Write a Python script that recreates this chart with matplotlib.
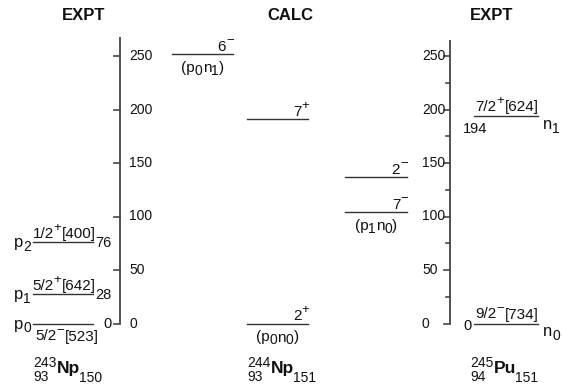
import matplotlib
matplotlib.use('Agg')
import matplotlib.pyplot as plt

plt.rcParams['font.family'] = ['Liberation Sans', 'DejaVu Sans']

# ---------------- data ----------------
scale_major = [0, 50, 100, 150, 200, 250]
scale_minor = [25, 75, 125, 175, 225]

np243_energy = [0, 28, 76]
np243_K = ['5/2', '5/2', '1/2']
np243_parity = ['\u2212', '+', '+']
np243_asym = ['[523]', '[642]', '[400]']
np243_index = ['0', '1', '2']

calc_energy = [0, 104, 137, 191, 252]
calc_I = ['2', '7', '2', '7', '6']
calc_parity = ['+', '\u2212', '\u2212', '+', '\u2212']
calc_config = [('0', '0'), ('1', '0'), None, None, ('0', '1')]
calc_slot = [1, 2, 2, 1, 0]

pu245_energy = [0, 194]
pu245_K = ['9/2', '7/2']
pu245_parity = ['\u2212', '+']
pu245_asym = ['[734]', '[624]']
pu245_index = ['0', '1']

titles = ['EXPT', 'CALC', 'EXPT']
nuclides = [('243', '93', 'Np', '150'), ('244', '93', 'Np', '151'), ('245', '94', 'Pu', '151')]

# ---------------- figure ----------------
W, H = 562, 388
fig = plt.figure(figsize=(W / 100, H / 100), dpi=100)
ax = fig.add_axes([0, 0, 1, 1])
ax.set_xlim(0, W)
k = 1.07
y0 = 323.5
ax.set_ylim((y0 - H) / k, y0 / k)
ax.axis('off')

lay = fig.add_axes([0, 0, 1, 1])
lay.set_xlim(0, W)
lay.set_ylim(H, 0)
lay.axis('off')

renderer = fig.canvas.get_renderer()

TXT = '#111111'
LN = '#333333'
AX = '#444444'
FS = 11
SUP = 9.5
SUBFS = 10


def lab(x, e, s, dx=0, dy=0, **kw):
    kw.setdefault('fontsize', FS)
    kw.setdefault('color', TXT)
    ax.annotate(s, (x, e), xytext=(dx, dy), textcoords='offset pixels', **kw)


def width(s, size, weight='normal'):
    t = ax.text(0, 0, s, fontsize=size, fontweight=weight)
    w = t.get_window_extent(renderer).width
    t.remove()
    return w


def seq(x, e, parts, ha='left', dy=0):
    """parts: list of (string, fontsize, rise_px, kern_after_px)."""
    widths = [width(s, size) + kern for s, size, rise, kern in parts]
    total = sum(widths)
    off = {'left': 0, 'center': -total / 2, 'right': -total}[ha]
    for (s, size, rise, kern), w in zip(parts, widths):
        ax.annotate(s, (x, e), xytext=(off, dy + rise), textcoords='offset pixels',
                    ha='left', va='baseline', fontsize=size, color=TXT)
        off += w


def nilsson(K, par, asym):
    return [(K, FS, 0, 0), (par, SUP, 7, 0), (asym, FS, 0, 0)]


# ---------------- energy scales ----------------
left_x = 120
right_x = 450
ax.plot([left_x, left_x], [0, (y0 - 37) / k], color=AX, lw=1.3, solid_capstyle='butt')
for t in scale_major:
    ax.plot([left_x - 6, left_x], [t, t], color=AX, lw=1.2)
    lab(left_x + 9, t, str(t), fontsize=10, va='center', ha='left')

ax.plot([right_x, right_x], [0, (y0 - 40) / k], color=AX, lw=1.3, solid_capstyle='butt')
for t in scale_major:
    ax.plot([right_x - 6, right_x], [t, t], color=AX, lw=1.2)
    lab(422, t, str(t), fontsize=10, va='center', ha='left')
for t in scale_minor:
    ax.plot([right_x - 4, right_x], [t, t], color=AX, lw=1.2)

# ---------------- 243Np levels ----------------
for e, K, par, asym, idx in zip(np243_energy, np243_K, np243_parity, np243_asym, np243_index):
    ax.plot([33, 93], [e, e], color=LN, lw=1.0)
    if e == 0:
        seq(67, e, nilsson(K, par, asym), ha='center', dy=-17)
    else:
        seq(64, e, nilsson(K, par, asym), ha='center', dy=4)
    lab(112, e, str(e), dy=-1, ha='right', va='center', fontsize=10.5)
    seq(14, e, [('p', 12, 0, 0), (idx, SUBFS, -4, 0)], dy=-5)

# ---------------- calculated 244Np levels ----------------
slots = [(172, 233), (247, 308), (345, 407)]
for e, I, par, cf, sl in zip(calc_energy, calc_I, calc_parity, calc_config, calc_slot):
    x1, x2 = slots[sl]
    ax.plot([x1, x2], [e, e], color=LN, lw=1.0)
    seq(x2 + 1, e, [(I, FS, 0, 0), (par, SUP, 7, 0)], ha='right', dy=3)
    if cf:
        seq((x1 + x2) / 2, e, [('(p', FS, 0, 0), (cf[0], SUBFS, -3, 0), ('n', FS, 0, 0),
                               (cf[1], SUBFS, -3, 0), (')', FS, 0, 0)], ha='center', dy=-18)

# ---------------- 245Pu levels ----------------
for e, K, par, asym, idx in zip(pu245_energy, pu245_K, pu245_parity, pu245_asym, pu245_index):
    ax.plot([474, 538], [e, e], color=LN, lw=1.0)
    seq(507, e, nilsson(K, par, asym), ha='center', dy=5)
    if e == 0:
        lab(463, e, str(e), dy=-3, ha='left', va='center', fontsize=10.5)
    else:
        lab(463, e, str(e), dy=-6, ha='left', va='top', fontsize=10.5)
    seq(543, e, [('n', 12, 0, 0), (idx, SUBFS, -4, 0)], dy=-13)

# ---------------- titles ----------------
for x, t in zip([84, 290, 492], titles):
    lay.text(x, 15, t, ha='center', va='center', fontsize=12, fontweight='bold', color=TXT)

# ---------------- nuclide labels ----------------
NFS = 10
for x, (A, Z, sym, N) in zip([33, 247, 470], nuclides):
    lay.text(x, 367, A, ha='left', va='baseline', fontsize=NFS, color=TXT)
    lay.text(x, 381, Z, ha='left', va='baseline', fontsize=NFS, color=TXT)
    xs = x + max(width(A, NFS), width(Z, NFS)) + 0.5
    lay.text(xs, 373, sym, ha='left', va='baseline', fontsize=12.5, fontweight='bold', color=TXT)
    xn = xs + width(sym, 12.5, 'bold') - 1
    lay.text(xn, 382, N, ha='left', va='baseline', fontsize=NFS, color=TXT)

fig.savefig('out.png', dpi=100)
